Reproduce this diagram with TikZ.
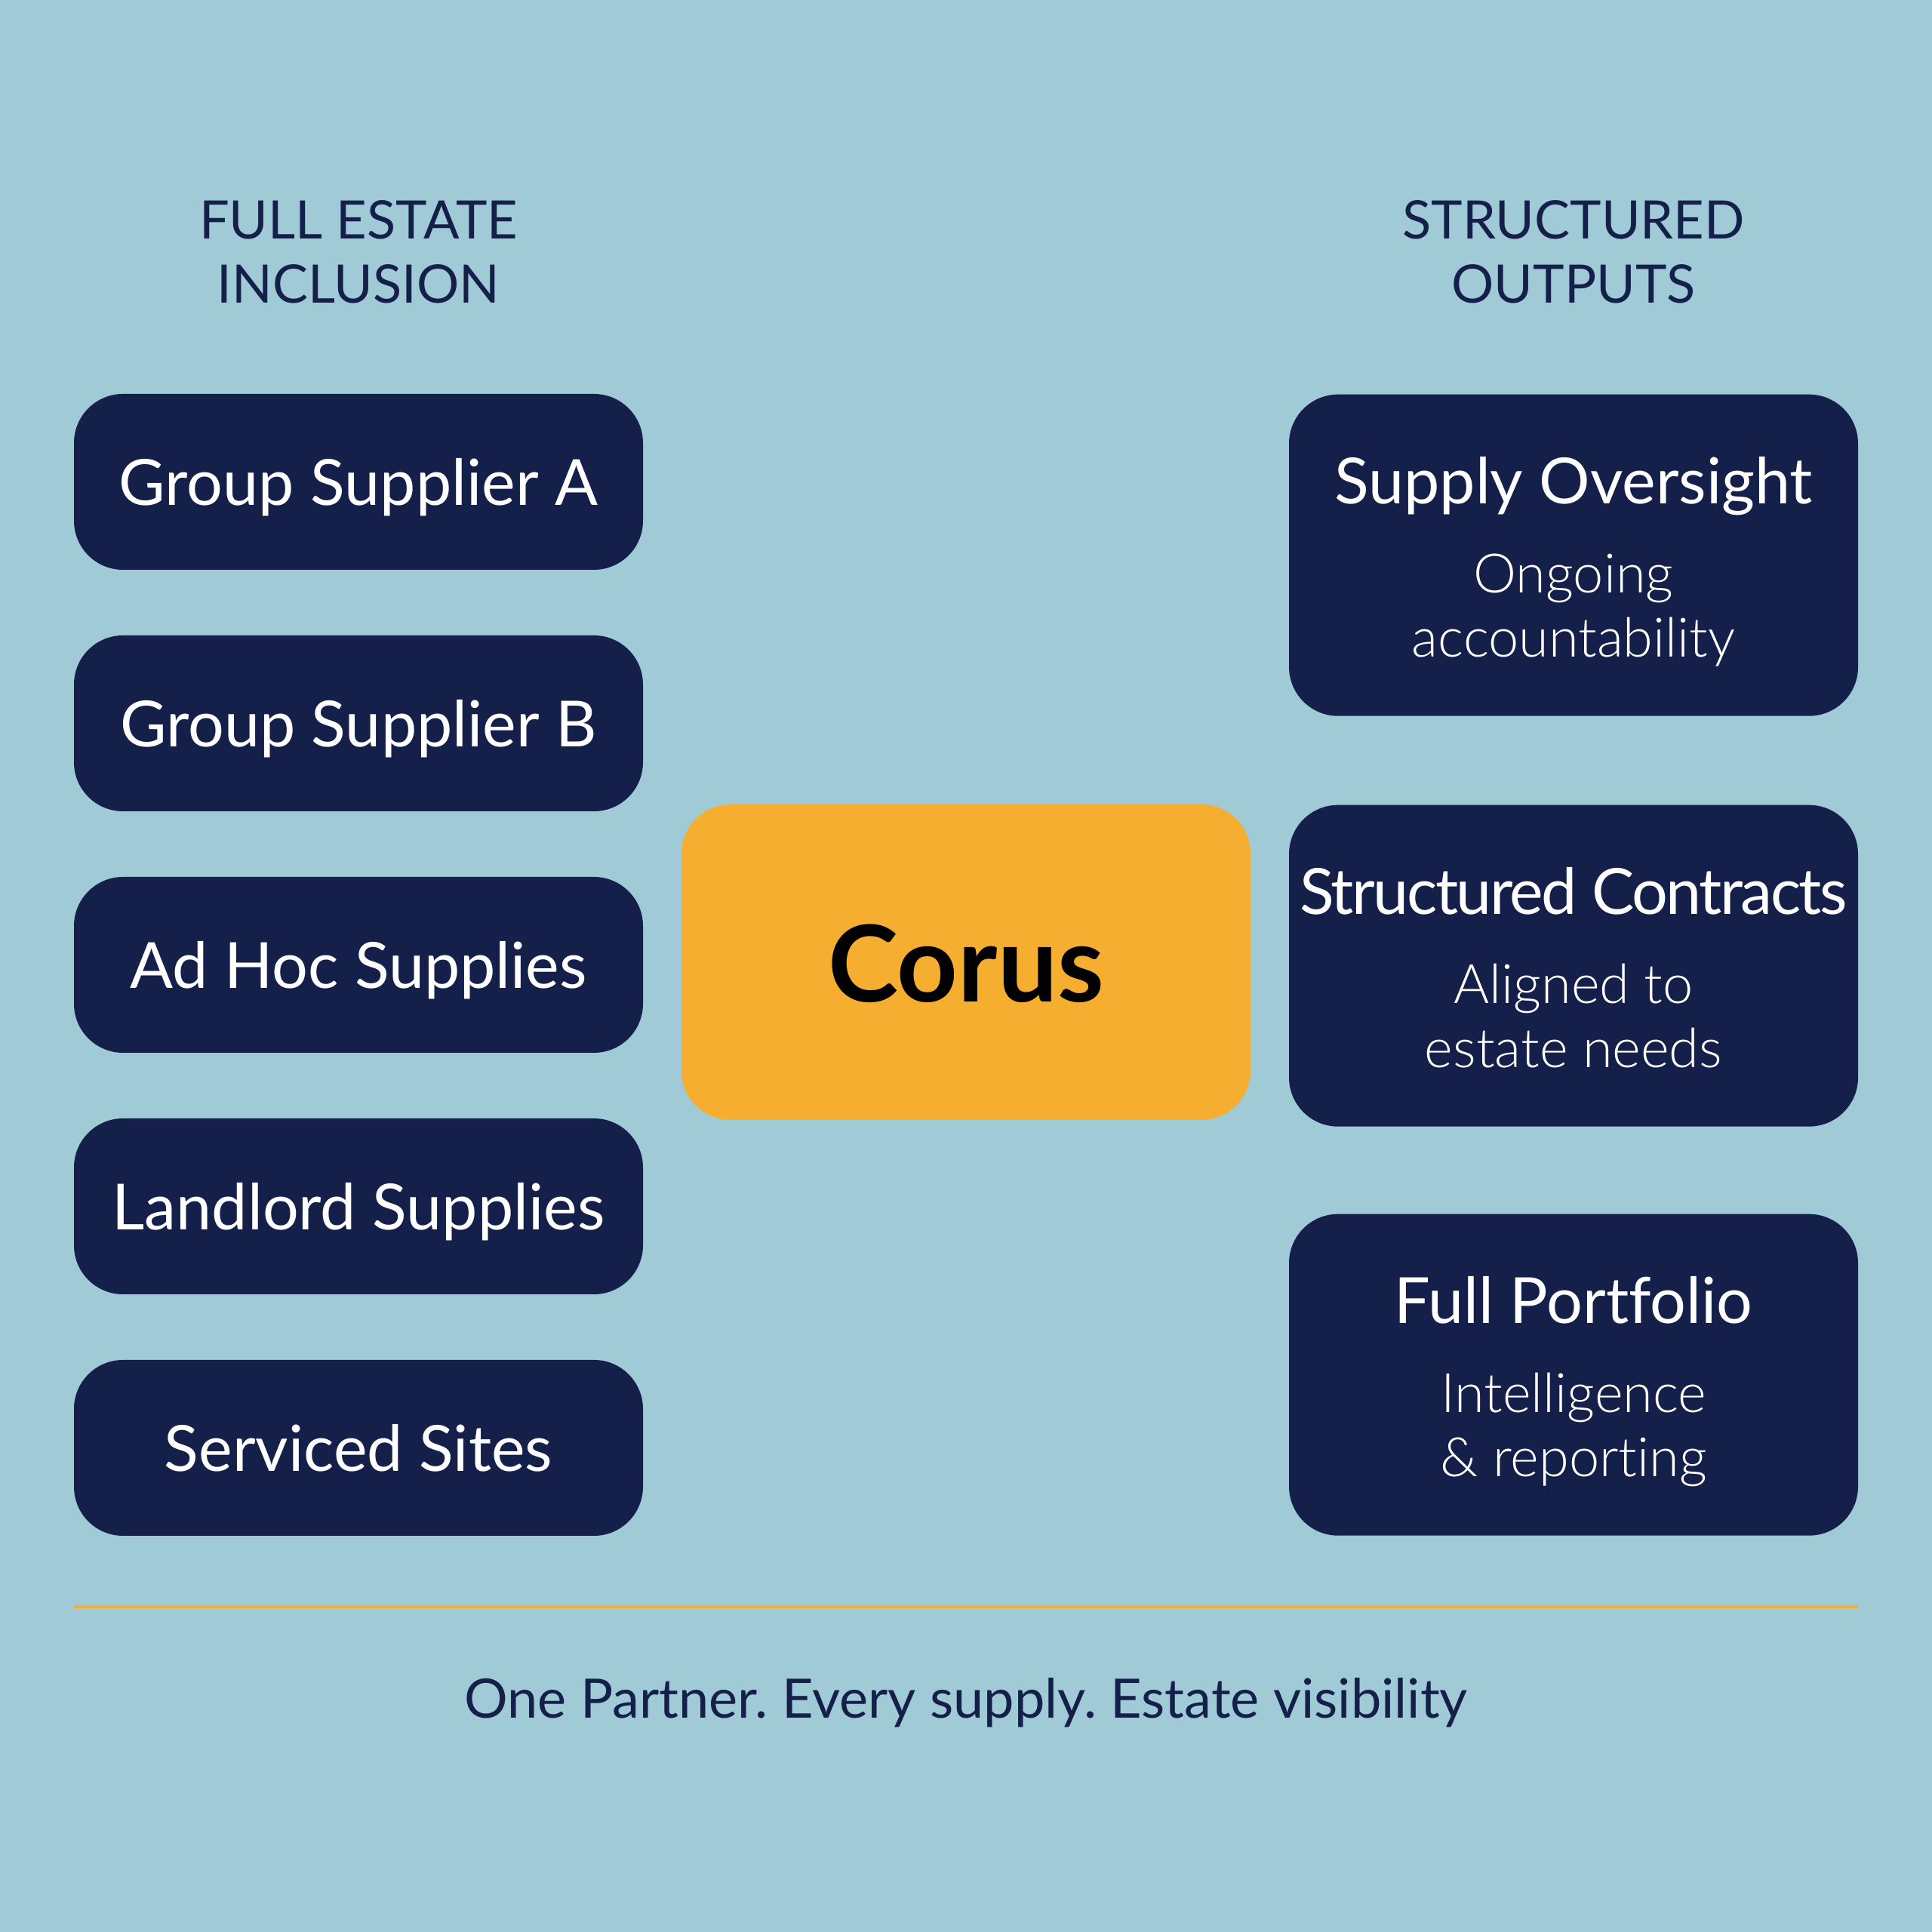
\documentclass[tikz,border=0pt]{standalone}
\usepackage{fontspec}
\setmainfont{Lato}[Ligatures=NoCommon]
\newfontfamily\lightfont{Lato}[UprightFont=* Light, Ligatures=NoCommon]
\frenchspacing

\definecolor{skyback}{HTML}{A1CAD7}
\definecolor{navy}{HTML}{15204A}
\definecolor{corusorange}{HTML}{F5AE30}

\tikzset{
  supplybox/.style={fill=navy, rounded corners=0.65cm, minimum width=7.54cm,
    minimum height=2.33cm, inner sep=0pt, text=white,
    text height=0.63cm, text depth=0pt, font=\fontsize{24}{30}\selectfont},
  outputbox/.style={fill=navy, rounded corners=0.65cm, minimum width=7.54cm,
    minimum height=4.26cm, inner sep=0pt},
  outtitle/.style={anchor=base, text=white, inner sep=0pt, font=\fontsize{24}{30}\selectfont},
  outsub/.style={anchor=base, text=white, inner sep=0pt, align=center,
    font=\lightfont\fontsize{20.5}{24.2}\selectfont},
  heading/.style={anchor=base, text=navy, inner sep=0pt, align=center,
    font=\fontsize{20}{24.4}\selectfont}
}

\begin{document}
\begin{tikzpicture}
  \fill[skyback] (0, 0) rectangle (25.6, 25.6);
  \useasboundingbox (0, 0) rectangle (25.6, 25.6);

  % column headings (base is the last line)
  \node[heading] (inclusion) at (4.75, 21.58) {FULL ESTATE\\INCLUSION};
  \node[heading] (outputs) at (20.85, 21.58) {STRUCTURED\\OUTPUTS};

  % supplies on the left
  \node[supplybox] (supA) at (4.75, 19.215) {Group Supplier A};
  \node[supplybox] (supB) at (4.75, 16.015) {Group Supplier B};
  \node[supplybox] (adhoc) at (4.75, 12.815) {Ad Hoc Supplies};
  \node[supplybox] (landlord) at (4.75, 9.615) {Landlord Supplies};
  \node[supplybox] (serviced) at (4.75, 6.415) {Serviced Sites};

  % Corus in the middle
  \node[fill=corusorange, rounded corners=0.65cm, minimum width=7.54cm,
    minimum height=4.18cm, inner sep=0pt, text height=1.06cm, text depth=0pt,
    font=\bfseries\fontsize{40}{48}\selectfont] (corus) at (12.8, 12.85) {Corus};

  % outputs on the right
  \node[outputbox, anchor=north] (oversight) at (20.85, 20.38) {};
  \node[outtitle] (oversightT) at ([yshift=-1.46cm]oversight.north) {Supply Oversight};
  \node[outsub] (oversightS) at ([yshift=-3.49cm]oversight.north) {Ongoing\\accountability};

  \node[outputbox, anchor=north] (contracts) at (20.85, 14.94) {};
  \node[outtitle] (contractsT) at ([yshift=-1.46cm]contracts.north)
    {\addfontfeature{LetterSpace=-3}Structured Contracts};
  \node[outsub] (contractsS) at ([yshift=-3.49cm]contracts.north) {Aligned to\\estate needs};

  \node[outputbox, anchor=north] (portfolio) at (20.85, 9.52) {};
  \node[outtitle] (portfolioT) at ([yshift=-1.46cm]portfolio.north) {Full Port\kern0pt{}folio};
  \node[outsub] (portfolioS) at ([yshift=-3.49cm]portfolio.north) {Intelligence\\\& reporting};

  % rule and strapline
  \draw[corusorange, line width=0.04cm] (0.98, 4.31) -- (24.62, 4.31);
  \node[heading, font=\fontsize{20.5}{24.4}\selectfont] (strap) at (12.8, 2.83)
    {One Partner. Every supply. Estate visibility};
\end{tikzpicture}
\end{document}
